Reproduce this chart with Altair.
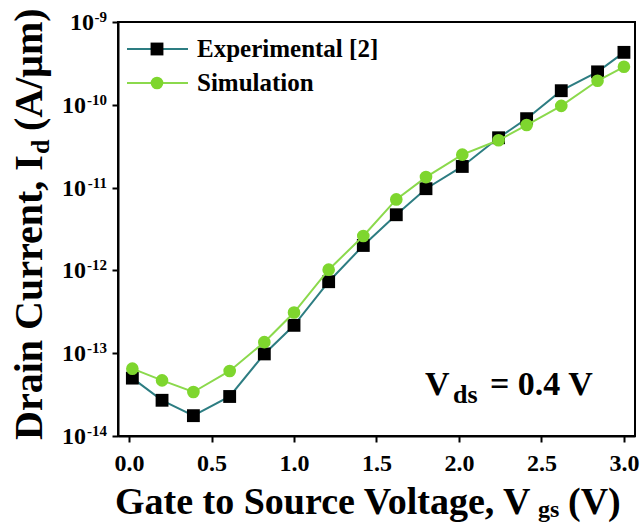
import altair as alt
import pandas as pd

# Gate voltage sweep (V) shared by both curves
vgs = [0.02, 0.2, 0.39, 0.61, 0.82, 1.0, 1.21, 1.42, 1.62, 1.8, 2.02, 2.24, 2.41, 2.62, 2.84, 3.0]

# Drain current (A/um)
id_experimental = [5.0e-14, 2.7e-14, 1.76e-14, 3.0e-14, 9.8e-14, 2.17e-13, 7.3e-13, 2.0e-12,
                   4.7e-12, 9.7e-12, 1.8e-11, 4.0e-11, 6.8e-11, 1.48e-10, 2.5e-10, 4.3e-10]
id_simulation = [6.5e-14, 4.7e-14, 3.4e-14, 6.1e-14, 1.36e-13, 3.1e-13, 1.02e-12, 2.6e-12,
                 7.2e-12, 1.34e-11, 2.5e-11, 3.73e-11, 5.7e-11, 9.7e-11, 1.95e-10, 2.88e-10]

series_names = ["Experimental [2]", "Simulation"]
x_ticks = [0.0, 0.5, 1.0, 1.5, 2.0, 2.5, 3.0]
y_ticks = [1e-9, 1e-10, 1e-11, 1e-12, 1e-13, 1e-14]

TEAL = "#2d7d82"
GREEN_LINE = "#8bd94c"
GREEN_DOT = "#7ed62e"
FONT = "Liberation Serif"

W, H = 517, 414

exp_df = pd.DataFrame({"vgs": vgs, "id": id_experimental, "series": series_names[0]})
sim_df = pd.DataFrame({"vgs": vgs, "id": id_simulation, "series": series_names[1]})
tick_df = pd.DataFrame({"v": y_ticks})
one = pd.DataFrame({"k": [0]})

x_scale = alt.Scale(domain=[-0.067, 3.067], nice=False, zero=False)
y_scale = alt.Scale(type="log", domain=[1e-14, 1e-9], nice=False)

x_axis = alt.Axis(values=x_ticks, format=".1f", title=None, grid=False,
                  labelFont=FONT, labelFontWeight="bold", labelFontSize=24,
                  labelColor="black", labelPadding=9, tickSize=6, tickWidth=2,
                  tickColor="black", domainColor="black", domainWidth=2)
y_axis = alt.Axis(values=y_ticks, labels=False, title=None, grid=False,
                  tickSize=6, tickWidth=2, tickColor="black",
                  domainColor="black", domainWidth=2)

X = alt.X("vgs:Q", scale=x_scale, axis=x_axis)
Y = alt.Y("id:Q", scale=y_scale, axis=y_axis)

exp_line = alt.Chart(exp_df).mark_line(color=TEAL, strokeWidth=2).encode(x=X, y=Y)
exp_pts = alt.Chart(exp_df).mark_point(shape="square", filled=True, color="black",
                                       size=165, opacity=1).encode(x=X, y=Y)
sim_line = alt.Chart(sim_df).mark_line(color=GREEN_LINE, strokeWidth=2).encode(x=X, y=Y)
sim_pts = alt.Chart(sim_df).mark_point(shape="circle", filled=True, color=GREEN_DOT,
                                       size=160, opacity=1).encode(x=X, y=Y)

# Decade tick labels "10" with a raised exponent
tick_base = alt.Chart(tick_df).transform_calculate(
    exp="'' + round(log(datum.v) / LN10)",
).transform_calculate(
    lx="-11 - (8 * length(datum.exp) - 3)"
)
tick_tens = tick_base.mark_text(font=FONT, fontWeight="bold", fontSize=24, align="right",
                                baseline="middle", color="black", dy=1).encode(
    x=alt.X("lx:Q", scale=None), y=alt.Y("v:Q", scale=y_scale), text=alt.value("10"))
tick_exps = tick_base.mark_text(font=FONT, fontWeight="bold", fontSize=15, align="right",
                                baseline="middle", color="black", dy=-5).encode(
    x=alt.value(-11), y=alt.Y("v:Q", scale=y_scale), text="exp:N")


def label(text, x, y, size, **kw):
    return alt.Chart(one).mark_text(font=FONT, fontWeight="bold", fontSize=size,
                                    color="black", align=kw.pop("align", "left"),
                                    baseline="alphabetic", **kw).encode(
        x=alt.value(x), y=alt.value(y), text=alt.value(text))


# Axis titles with subscripts
x_title = [
    label("Gate to Source Voltage, V", -3, 492, 38),
    label("gs", 420, 495, 24),
    label("(V)", 450, 492, 38),
]
y_title = [
    label("Drain Current, I", -76, 418, 40, angle=270),
    label("d", -69, 132, 26, angle=270),
    label("(A/\u03bcm)", -76, 109, 40, angle=270),
]

# Bias annotation
vds_note = [
    label("V", 307, 373, 34),
    label("ds", 335, 381, 26),
    label("= 0.4 V", 372, 373, 34),
]

# Legend
legend = []
for i, (name, lc, mc, shape, sz) in enumerate(zip(series_names, [TEAL, GREEN_LINE],
                                                   ["black", GREEN_DOT], ["square", "circle"],
                                                   [165, 160])):
    yy = 27 + 34 * i
    legend.append(alt.Chart(one).mark_rule(color=lc, strokeWidth=2).encode(
        x=alt.value(9), x2=alt.value(70), y=alt.value(yy)))
    legend.append(alt.Chart(one).mark_point(shape=shape, filled=True, color=mc,
                                            size=sz, opacity=1).encode(
        x=alt.value(39), y=alt.value(yy)))
    legend.append(label(name, 79, yy + 8, 25))

chart = alt.layer(
    exp_line, exp_pts, sim_line, sim_pts, tick_tens, tick_exps,
    *x_title, *y_title, *vds_note, *legend
).properties(
    width=W, height=H,
    autosize=alt.AutoSizeParams(type="none"),
    padding={"left": 118, "top": 22, "right": 6, "bottom": 88},
    background="white",
).configure_view(stroke="black", strokeWidth=2)

chart.save("out.html", embed_options={"renderer": "svg", "actions": False})
